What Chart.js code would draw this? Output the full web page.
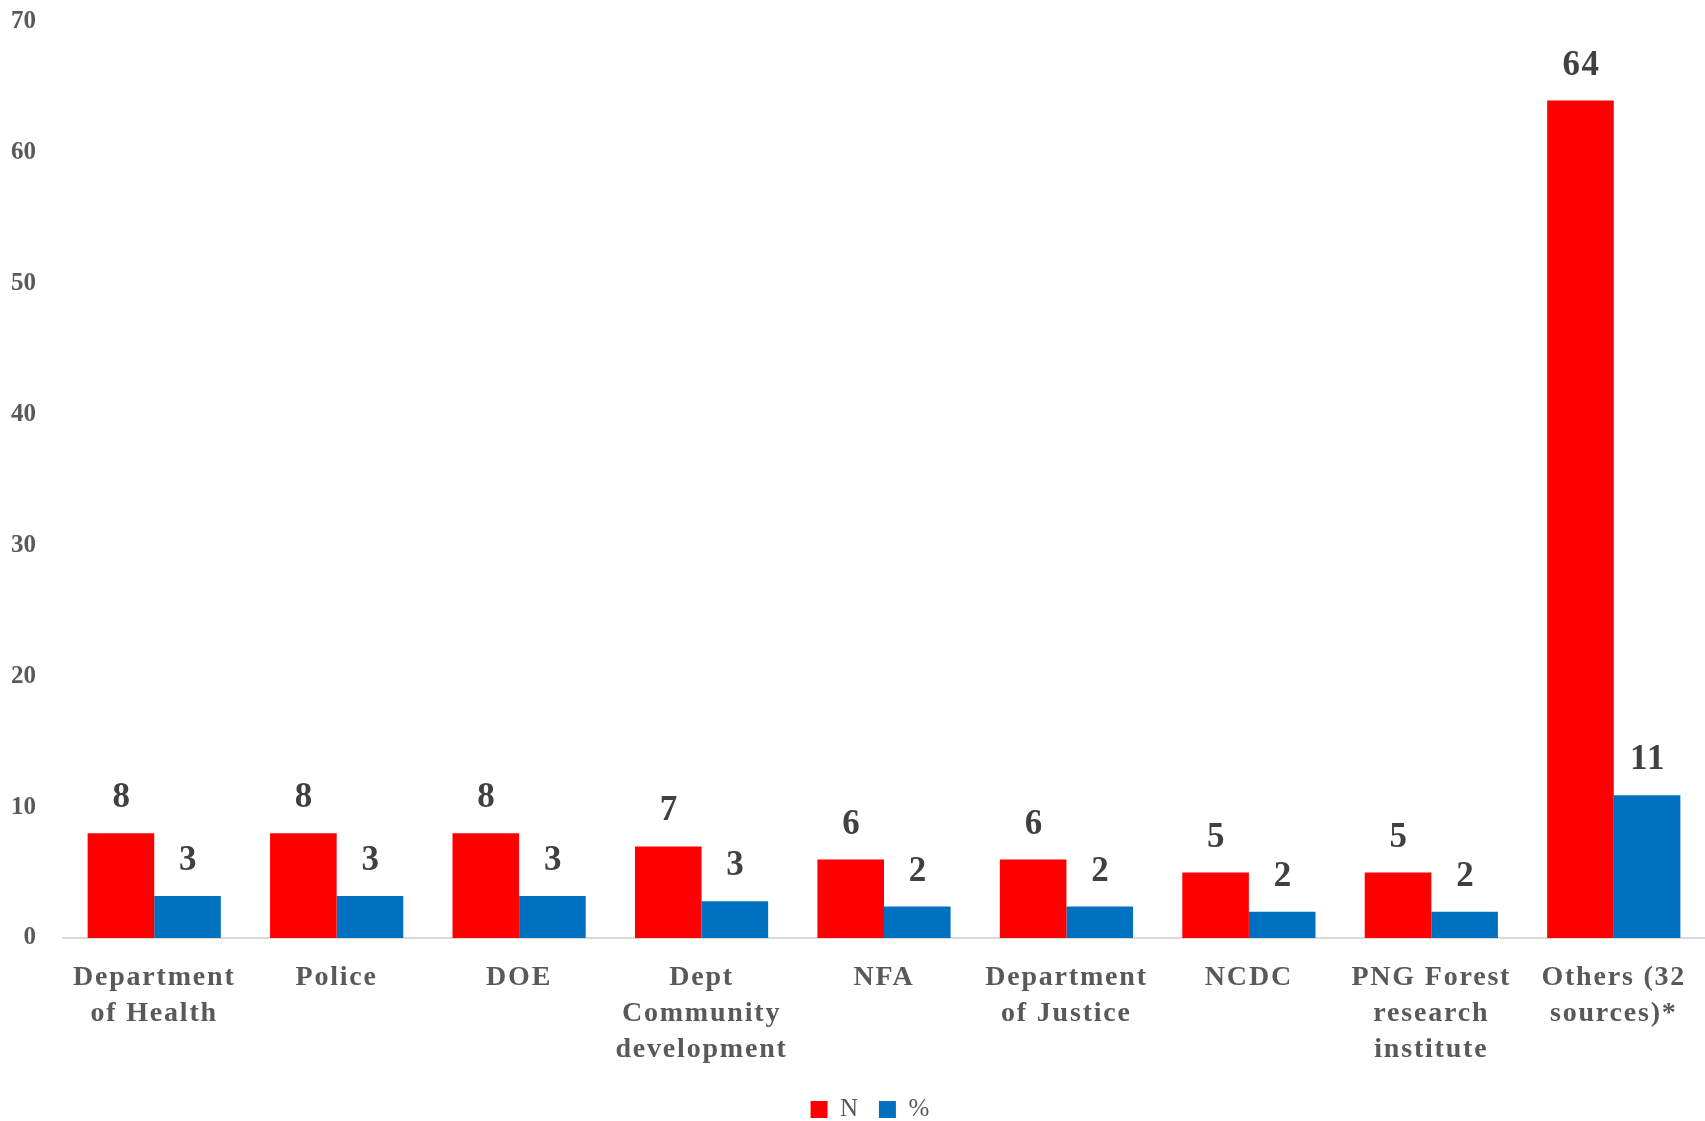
<!DOCTYPE html>
<html>
<head>
<meta charset="utf-8">
<script src="https://cdn.jsdelivr.net/npm/chart.js@4"></script>
<style>
	html, body { margin: 0; padding: 0; background: #ffffff; }
	#wrap { width: 1705px; height: 1121px; position: relative; }
</style>
</head>
<body>
<div id="wrap"><canvas id="chart"></canvas></div>
<script>
const categories = [
	["Department", "of Health"],
	"Police",
	"DOE",
	["Dept", "Community", "development"],
	"NFA",
	["Department", "of Justice"],
	"NCDC",
	["PNG Forest", "research", "institute"],
	["Others (32", "sources)*"]
];
const countValues = [8, 8, 8, 7, 6, 6, 5, 5, 64];
const percentValues = [3.2, 3.2, 3.2, 2.8, 2.4, 2.4, 2.0, 2.0, 10.9];
const yTicks = [0, 10, 20, 30, 40, 50, 60, 70];

const serif = '"Liberation Serif", "DejaVu Serif", serif';

// the original font is a wide Garamond, so the category labels get some extra tracking
const tracking = {
	id: 'tracking',
	afterLayout(chart) {
		// legend sits a little left of the plot centre in the original
		chart.legend.left -= 15;
		chart.legend.right -= 15;
	},
	beforeDraw(chart) {
		chart.ctx.letterSpacing = '1.8px';
	},
	beforeDatasetsDraw(chart) {
		chart.ctx.letterSpacing = '0px';
	}
};

// draws the value above each bar, the way the spreadsheet did
const valueLabels = {
	id: 'valueLabels',
	afterDatasetsDraw(chart) {
		const ctx = chart.ctx;
		ctx.save();
		ctx.letterSpacing = '1.5px';
		ctx.font = 'bold 35px ' + serif;
		ctx.fillStyle = '#404040';
		ctx.textAlign = 'center';
		ctx.textBaseline = 'middle';
		chart.data.datasets.forEach((ds, i) => {
			chart.getDatasetMeta(i).data.forEach((bar, j) => {
				ctx.fillText(String(Math.round(ds.data[j])), bar.x + 1, bar.y - 35);
			});
		});
		ctx.restore();
	}
};

new Chart(document.getElementById('chart'), {
	type: 'bar',
	data: {
		labels: categories,
		datasets: [
		{
			label: 'N',
			data: countValues,
			backgroundColor: '#ff0000',
			categoryPercentage: 0.73,
			barPercentage: 1.0
		}, {
			label: '%',
			data: percentValues,
			backgroundColor: '#0070c0',
			categoryPercentage: 0.73,
			barPercentage: 1.0
		}]
	},
	options: {
		responsive: true,
		maintainAspectRatio: false,
		animation: false,
		layout: { padding: { top: 22, left: 10, right: 0, bottom: -11 } },
		plugins: {
			tooltip: { enabled: false },
			legend: {
				position: 'bottom',
				fullSize: false,
				labels: {
					font: { family: serif, size: 25 },
					color: '#595959',
					boxWidth: 17,
					boxHeight: 17,
					padding: 19
				}
			}
		},
		scales: {
			x: {
				grid: { display: false },
				border: { color: '#d9d9d9', width: 2 },
				afterFit(axis) {
					axis.paddingLeft = 0;
					axis.paddingRight = 0;
					axis.height -= 4;
				},
				ticks: {
					font: { family: serif, size: 28, weight: 'bold', lineHeight: 1.286 },
					color: '#595959',
					padding: 14,
					maxRotation: 0,
					autoSkip: false
				}
			},
			y: {
				min: 0,
				max: 70,
				afterBuildTicks(axis) {
					axis.ticks = yTicks.map(v => ({ value: v }));
				},
				afterFit(axis) {
					axis.width = 53;
					axis.paddingTop = 10;
					axis.paddingBottom = 10;
				},
				grid: { display: false, drawTicks: false },
				border: { display: false },
				ticks: {
					font: { family: serif, size: 25, weight: 'bold' },
					color: '#595959',
					padding: 27,
					z: 1
				}
			}
		}
	},
	plugins: [tracking, valueLabels]
});
</script>
</body>
</html>
